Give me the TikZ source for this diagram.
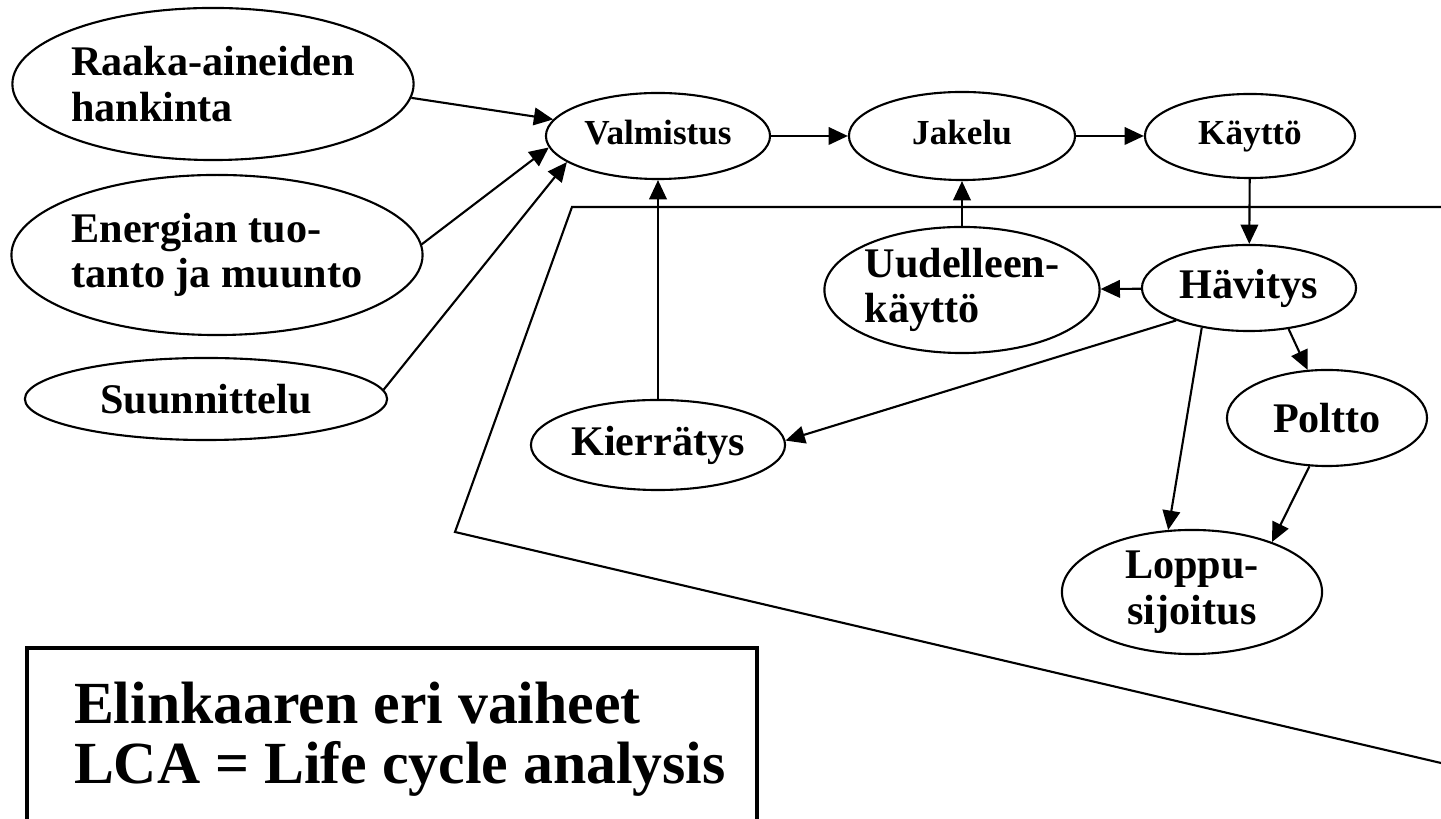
\documentclass[tikz,border=0pt]{standalone}
\usepackage{fontspec}
\setmainfont{Liberation Serif}
\usetikzlibrary{shapes.geometric,arrows.meta}

\begin{document}
\begin{tikzpicture}[x=0.01cm,y=-0.01cm,line width=0.6pt,
    phase/.style={draw, ellipse, inner sep=0pt, font=\fontsize{12}{13}\selectfont\bfseries},
    smallphase/.style={phase, text height=0.7em, text depth=0.2em, font=\fontsize{10}{12}\selectfont\bfseries},
    flow/.style={-{Triangle[length=5.5pt,width=5pt]}}]
	\useasboundingbox (0,0) rectangle (1441,819);
	\clip (0,0) rectangle (1441,819);
	
	%%%%% raja %%%%%
	\draw (1441,207) -- (572,207) -- (455,532) -- (1441,763);
	
	%%%%% vaiheet %%%%%
	\node[phase, minimum width=3.92cm, minimum height=1.52cm, align=left] (raaka) at (213,84) {Raaka-aineiden\\hankinta};
	\node[phase, minimum width=4.06cm, minimum height=1.60cm, align=left] (energia) at (217,255) {Energian tuo-\\tanto ja muunto};
	\node[phase, minimum width=3.62cm, minimum height=0.82cm] (suunnittelu) at (206,399) {Suunnittelu};
	
	\node[smallphase, minimum width=2.24cm, minimum height=0.86cm] (valmistus) at (658,136) {Valmistus};
	\node[smallphase, minimum width=2.26cm, minimum height=0.88cm] (jakelu) at (962,136) {Jakelu};
	\node[smallphase, minimum width=2.10cm, minimum height=0.84cm] (kaytto) at (1250,136) {Käyttö};
	
	\node[phase, minimum width=2.14cm, minimum height=0.86cm] (havitys) at (1249,288) {Hävitys};
	\node[phase, minimum width=2.60cm, minimum height=1.26cm, align=left] (uudelleen) at (962,290) {Uudelleen-\\käyttö};
	\node[phase, minimum width=2.00cm, minimum height=0.96cm] (poltto) at (1327,418) {Poltto};
	\node[phase, minimum width=2.60cm, minimum height=1.24cm, align=center] (loppu) at (1192,592) {Loppu-\\sijoitus};
	\node[phase, minimum width=2.54cm, minimum height=0.90cm] (kierratys) at (658,445) {Kierrätys};
	
	%%%%% nuolet %%%%%
	\draw[flow] (raaka.-4) -- (valmistus.171);
	\draw[flow] (energia.3.5) -- (valmistus.186);
	\draw[flow] (suunnittelu.3.5) -- (valmistus.196);
	\draw[flow] (valmistus) -- (jakelu);
	\draw[flow] (jakelu) -- (kaytto);
	\draw[flow] (kaytto) -- (havitys);
	\draw[flow] (havitys) -- (uudelleen);
	\draw[flow] (uudelleen) -- (jakelu);
	\draw[flow] (kierratys) -- (valmistus);
	\draw[flow] (havitys.204) -- (kierratys.2);
	\draw[flow] (havitys.220.5) -- (loppu.111);
	\draw[flow] (havitys.-46) -- (poltto.112);
	\draw[flow] (poltto.250) -- (loppu.32);
	
	%%%%% otsikko %%%%%
	\draw[line width=1pt] (27,648) rectangle (757,840);
	\node[anchor=north west, align=left, inner sep=0pt, font=\fontsize{17}{17}\selectfont\bfseries] (otsikko) at (73,681) {Elinkaaren eri vaiheet\\LCA = Life cycle analysis};
\end{tikzpicture}
\end{document}
